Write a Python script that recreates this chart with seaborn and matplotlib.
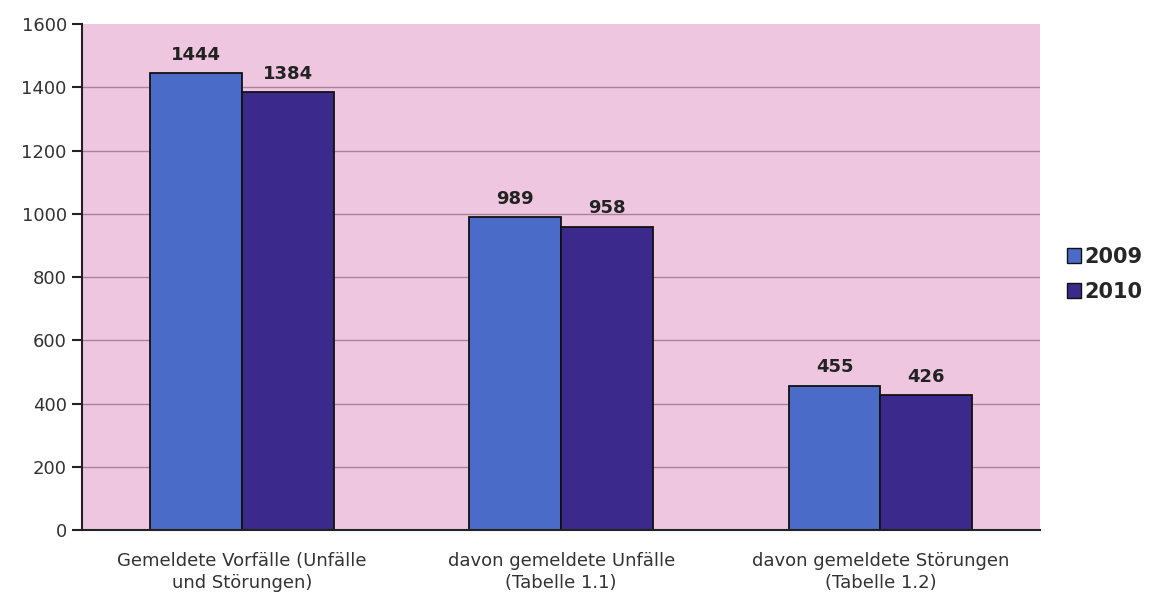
import matplotlib
matplotlib.use("Agg")
import matplotlib.pyplot as plt
import seaborn as sns
import pandas as pd
from matplotlib.patches import Patch

categories = ["Gemeldete Vorfälle (Unfälle\nund Störungen)",
              "davon gemeldete Unfälle\n(Tabelle 1.1)",
              "davon gemeldete Störungen\n(Tabelle 1.2)"]
years = ["2009", "2010"]
values_2009 = [1444, 989, 455]
values_2010 = [1384, 958, 426]
y_ticks = [0, 200, 400, 600, 800, 1000, 1200, 1400, 1600]

df = pd.DataFrame({
    "cat": categories * 2,
    "year": [years[0]] * 3 + [years[1]] * 3,
    "value": values_2009 + values_2010,
})

sns.set_theme(style="white")
plt.rcParams['font.family'] = ['DejaVu Sans']

colors = {"2009": "#4a6cc8", "2010": "#3b2a8c"}

fig = plt.figure(figsize=(11.57, 6.03), dpi=100)
ax = fig.add_axes([0.071, 0.121, 0.828, 0.839])
ax.set_facecolor("#efc6df")

sns.barplot(data=df, x="cat", y="value", hue="year", palette=colors,
            width=0.575, edgecolor="#111111", linewidth=1.3, ax=ax,
            legend=False, saturation=1)

for c in ax.containers:
    ax.bar_label(c, labels=[f"{int(v)}" for v in c.datavalues], padding=7,
                 fontsize=13, fontweight="bold", color="#222222")

ax.set_ylim(0, 1600)
ax.set_xlim(-0.5, 2.5)
ax.set_yticks(y_ticks)
ax.yaxis.grid(True, color="#ab8299", linewidth=1.0)
ax.set_axisbelow(True)
ax.set_xlabel("")
ax.set_ylabel("")
gl = ax.yaxis.get_gridlines()
gl[-1].set_visible(False)

for s in ["top", "right"]:
    ax.spines[s].set_visible(False)
for s in ["left", "bottom"]:
    ax.spines[s].set_color("#222222")
    ax.spines[s].set_linewidth(1.5)

ax.set_xticks([0, 1, 2])
ax.set_xticklabels(categories, fontsize=13, color="#333333", linespacing=1.3)
ax.tick_params(axis="x", length=0, pad=16)
ax.set_xticks([-0.5, 0.5, 1.5, 2.5], minor=True)
ax.tick_params(axis="x", which="minor", length=7, width=1.5, color="#222222", direction="out")
ax.tick_params(axis="y", length=7, width=1.5, color="#222222", direction="out",
               labelsize=13, labelcolor="#333333", left=True, pad=4)

handles = [Patch(facecolor=colors[y], edgecolor="#111111", label=y) for y in years]
leg = fig.legend(handles=handles, loc="center left", bbox_to_anchor=(0.922, 0.545),
                 frameon=False, prop={"weight": "bold", "size": 15},
                 handlelength=0.7, handleheight=0.7, handletextpad=0.15, labelspacing=0.7,
                 borderaxespad=0, borderpad=0)

fig.savefig("out.png", dpi=100, facecolor="white")
